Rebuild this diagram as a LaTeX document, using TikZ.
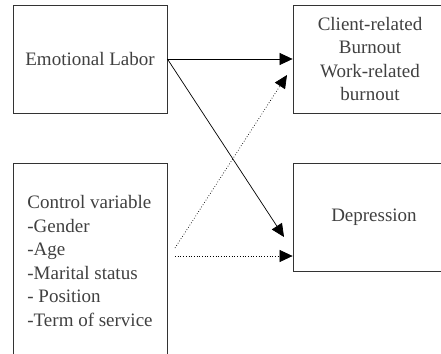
\documentclass[tikz,border=0pt]{standalone}
\usepackage{fontspec}
\setmainfont{Liberation Serif}
\usetikzlibrary{arrows.meta}

\begin{document}
\begin{tikzpicture}[x=1pt,y=-1pt,
	box/.style={draw=black!80,line width=0.8pt,minimum width=154pt,inner sep=0pt,
		text=black!75,font=\fontsize{19}{23.5}\selectfont,align=center},
	link/.style={-{Triangle[length=13pt,width=12pt]},line width=0.7pt}]
	\useasboundingbox (0,0) rectangle (441,353);
	\clip (0,0) rectangle (441,353);
	\node[box,minimum height=108pt] (labor) at (90,59) {Emotional Labor};
	\node[box,minimum height=108pt] (burnout) at (370,59) {Client-related\\Burnout\\Work-related\\burnout};
	\node[box,minimum height=108pt,minimum width=162pt] (depression) at (374,217) {Depression};
	\node[box,minimum height=196pt,align=left] (control) at (90,261)
		{Control variable\\-Gender\\-Age\\-Marital status\\- Position\\-Term of service};
	\coordinate (tipA) at (284,237);
	\coordinate (tipB) at (287,75);
	\coordinate (startA) at (175,248);
	\coordinate (startB) at (175,256);
	\draw[link] (labor.east) -- (burnout.west);
	\draw[link] (labor.east) -- (tipA);
	\draw[link,dotted] (startA) -- (tipB);
	\draw[link,dotted] (startB) -- (depression.west |- startB);
\end{tikzpicture}
\end{document}
